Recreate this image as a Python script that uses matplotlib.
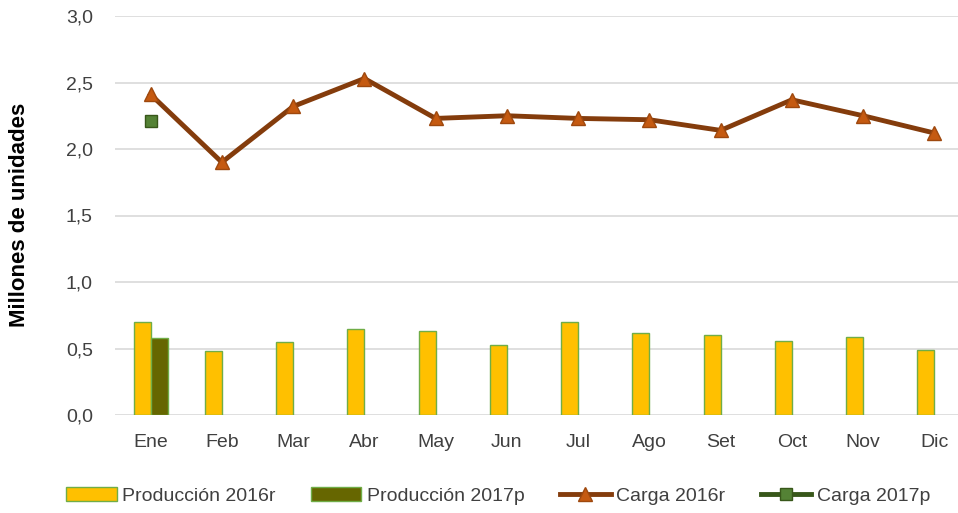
import numpy as np
import matplotlib
matplotlib.use("Agg")
import matplotlib.pyplot as plt
from matplotlib.ticker import FuncFormatter

plt.rcParams['font.family'] = ['Liberation Sans', 'DejaVu Sans']

months = ['Ene', 'Feb', 'Mar', 'Abr', 'May', 'Jun', 'Jul', 'Ago', 'Set', 'Oct', 'Nov', 'Dic']
prod_2016 = [0.70, 0.48, 0.55, 0.65, 0.63, 0.53, 0.70, 0.62, 0.60, 0.56, 0.59, 0.49]
prod_2017 = [0.58]
carga_2016 = [2.41, 1.90, 2.32, 2.53, 2.23, 2.25, 2.23, 2.22, 2.14, 2.37, 2.25, 2.12]
carga_2017 = [2.21]

fig = plt.figure(figsize=(9.58, 5.13), dpi=100)
ax = fig.add_axes([115 / 958, 1 - 415 / 513, 855 / 958, 399 / 513])

x = np.arange(len(months))
w = 0.24
b1 = ax.bar(x - w / 2, prod_2016, w, color='#FFC000', edgecolor='#70AD47', linewidth=1,
            label='Producción 2016r', zorder=2)
b2 = ax.bar(x[:len(prod_2017)] + w / 2, prod_2017, w, color='#666600', edgecolor='#70AD47',
            linewidth=1, label='Producción 2017p', zorder=2)
l1, = ax.plot(x, carga_2016, color='#843C0C', lw=3.5, marker='^', ms=10,
              markerfacecolor='#C55A11', markeredgecolor='#9E480E', label='Carga 2016r', zorder=3)
l2, = ax.plot(x[:len(carga_2017)], carga_2017, color='#38571A', lw=3.5, marker='s', ms=8,
              markerfacecolor='#548235', markeredgecolor='#38571A', linestyle='-',
              label='Carga 2017p', zorder=3)

ax.set_xlim(-0.5, 11.5)
ax.set_ylim(0, 3.0)
ax.set_yticks(np.arange(0, 3.01, 0.5))
ax.yaxis.set_major_formatter(FuncFormatter(lambda v, p: f'{v:.1f}'.replace('.', ',')))
ax.set_xticks(x)
ax.set_xticklabels(months)
ax.grid(axis='y', color='#D9D9D9', lw=1.2, zorder=0)
ax.set_axisbelow(True)
for s in ax.spines.values():
    s.set_visible(False)
ax.tick_params(axis='both', length=0, labelsize=14, colors='#404040')
ax.tick_params(axis='x', pad=14)
ax.tick_params(axis='y', pad=16)
fig.text(20 / 958, 1 - 215 / 513, 'Millones de unidades', rotation=90, ha='center', va='center',
         fontsize=16, fontweight='bold', color='black')

fig.legend([b1, b2, l1, l2], ['Producción 2016r', 'Producción 2017p', 'Carga 2016r', 'Carga 2017p'],
           loc='center', bbox_to_anchor=(0.52, 0.033), ncol=4, frameon=False,
           fontsize=14, handlelength=2.6, columnspacing=1.8, handletextpad=0.3,
           labelcolor='#404040')

fig.savefig('out.png', dpi=100)
